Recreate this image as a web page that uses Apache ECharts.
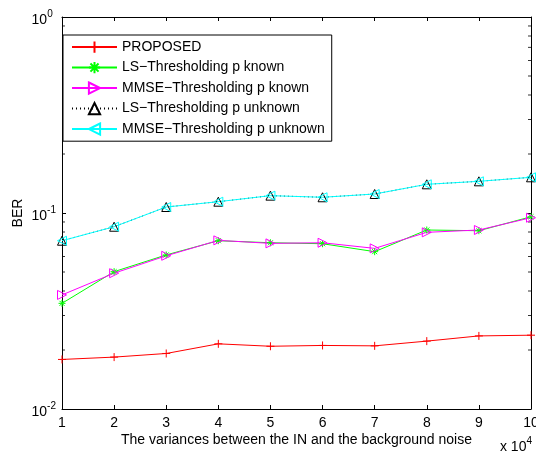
<!DOCTYPE html>
<html><head><meta charset="utf-8">
<script src="https://cdn.jsdelivr.net/npm/echarts@6/dist/echarts.min.js"></script>
<style>html,body{margin:0;padding:0;background:#fff}#c{width:536px;height:454px}</style>
</head><body><div id="c"></div>
<script>
const xValues = [1, 2, 3, 4, 5, 6, 7, 8, 9, 10];
const proposed = [0.0179, 0.0184, 0.0192, 0.0215, 0.0209, 0.0211, 0.0210, 0.0222, 0.0236, 0.0238];
const lsKnown = [0.0346, 0.0502, 0.0611, 0.0722, 0.0705, 0.0697, 0.0635, 0.0819, 0.0812, 0.0957];
const mmseKnown = [0.0382, 0.0493, 0.0605, 0.0725, 0.0700, 0.0705, 0.0660, 0.0797, 0.0819, 0.0946];
const lsUnknown = [0.0722, 0.0851, 0.1073, 0.1142, 0.1226, 0.1203, 0.1250, 0.1401, 0.1451, 0.1521];
const mmseUnknown = [0.0722, 0.0851, 0.1073, 0.1142, 0.1226, 0.1203, 0.1250, 0.1401, 0.1451, 0.1521];
const seriesNames = ['PROPOSED', 'LS\u2212Thresholding p known', 'MMSE\u2212Thresholding p known', 'LS\u2212Thresholding p unknown', 'MMSE\u2212Thresholding p unknown'];
const minorTickValues = [0.02, 0.03, 0.04, 0.05, 0.06, 0.07, 0.08, 0.09, 0.2, 0.3, 0.4, 0.5, 0.6, 0.7, 0.8, 0.9];
const xAxisTitle = 'The variances between the IN and the background noise';
const yAxisTitle = 'BER';

const FONT = 'Liberation Sans, Arial, Helvetica, sans-serif';
const pair = (arr) => xValues.map((x, i) => [x, arr[i]]);
const chart = echarts.init(document.getElementById('c'), null, {renderer: 'canvas'});

const SYM = {
  plus: 'path://M0,-5L0,5M-5,0L5,0',
  star: 'path://M0,-5L0,5M-5,0L5,0M-3.6,-3.6L3.6,3.6M-3.6,3.6L3.6,-3.6',
  right: 'path://M0,0L10,5L0,10Z',
  left: 'path://M10,0L0,5L10,10Z',
  up: 'path://M5,0L10,9L0,9Z'
};
function lineSeries(name, data, color, symbol, size, lineType) {
  return {
    name, type: 'line', data: pair(data), symbol: symbol, symbolSize: size,
    lineStyle: {color: color, width: 1, type: lineType || 'solid'},
    itemStyle: {color: 'none', borderColor: color, borderWidth: 1},
    emphasis: {disabled: true}, animation: false, clip: false, z: 3
  };
}
const tickSeries = (x, off) => ({
  type: 'scatter', data: minorTickValues.map(v => [x, v]), symbol: 'rect',
  symbolSize: [3, 1], symbolOffset: [off, 0], itemStyle: {color: '#000'},
  silent: true, animation: false, z: 2
});
const axisCommon = {
  axisLine: {show: true, lineStyle: {color: '#000', width: 1}},
  axisTick: {show: true, inside: true, length: 4, lineStyle: {color: '#000'}},
  splitLine: {show: false}
};
const supLabel = v => {
  const e = Math.round(Math.log10(v));
  return e === 0 ? '{b|10}{z|0}' : '{b|10}{s|-' + (-e) + '}';
};
chart.setOption({
  backgroundColor: '#fff',
  textStyle: {fontFamily: FONT},
  grid: {left: 62, right: 5, top: 17, bottom: 45, containLabel: false, outerBoundsMode: 'none'},
  legend: {
    data: seriesNames, orient: 'vertical', left: 63, top: 35, z: 10,
    backgroundColor: '#fff', borderColor: '#000', borderWidth: 1, borderRadius: 0,
    padding: [4, 7, 4, 8], itemWidth: 45, itemHeight: 14, itemGap: 4.3,
    textStyle: {fontSize: 14, color: '#000', fontFamily: FONT}, selectedMode: false
  },
  xAxis: [
    Object.assign({type: 'value', min: 1, max: 10, interval: 1, position: 'bottom',
      name: xAxisTitle, nameLocation: 'middle', nameGap: 24, nameMoveOverlap: false,
      nameTextStyle: {fontSize: 14, color: '#000', fontFamily: FONT},
      axisLabel: {fontSize: 14, color: '#000', margin: 7, fontFamily: FONT}}, axisCommon),
    Object.assign({type: 'value', min: 1, max: 10, interval: 1, position: 'top',
      axisLabel: {show: false}}, axisCommon)
  ],
  yAxis: [
    Object.assign({type: 'log', logBase: 10, min: 0.01, max: 1, position: 'left',
      name: yAxisTitle, nameLocation: 'middle', nameGap: 37, nameRotate: 90, nameMoveOverlap: false,
      nameTextStyle: {fontSize: 14, color: '#000', fontFamily: FONT},
      axisLabel: {margin: 6, color: '#000', fontFamily: FONT, formatter: supLabel,
        rich: {b: {fontSize: 14, fontFamily: FONT, color: '#000', padding: [6, 0, 0, 0]},
               s: {fontSize: 10, fontFamily: FONT, color: '#000', padding: [0, 0, 6, 0]},
               z: {fontSize: 10, fontFamily: FONT, color: '#000', padding: [0, 3.3, 6, 0]}}}}, axisCommon),
    Object.assign({type: 'log', logBase: 10, min: 0.01, max: 1, position: 'right',
      axisLabel: {show: false}}, axisCommon)
  ],
  graphic: [{
    type: 'text', right: 4, bottom: 0,
    style: {text: '{b|x 10}{s|4}', fontFamily: FONT,
      rich: {b: {fontSize: 14, fontFamily: FONT, fill: '#000', padding: [6, 0, 0, 0]},
             s: {fontSize: 10, fontFamily: FONT, fill: '#000', padding: [0, 0, 6, 0]}}}
  }],
  series: [
    lineSeries(seriesNames[0], proposed, '#ff0000', SYM.plus, 8),
    lineSeries(seriesNames[1], lsKnown, '#00ff00', SYM.star, 7),
    lineSeries(seriesNames[2], mmseKnown, '#ff00ff', SYM.right, 9),
    lineSeries(seriesNames[3], lsUnknown, '#000000', SYM.up, 9, [1, 3]),
    lineSeries(seriesNames[4], mmseUnknown, '#00ffff', SYM.left, 9),
    tickSeries(1, 1.5), tickSeries(10, -1.5)
  ]
});
</script></body></html>
